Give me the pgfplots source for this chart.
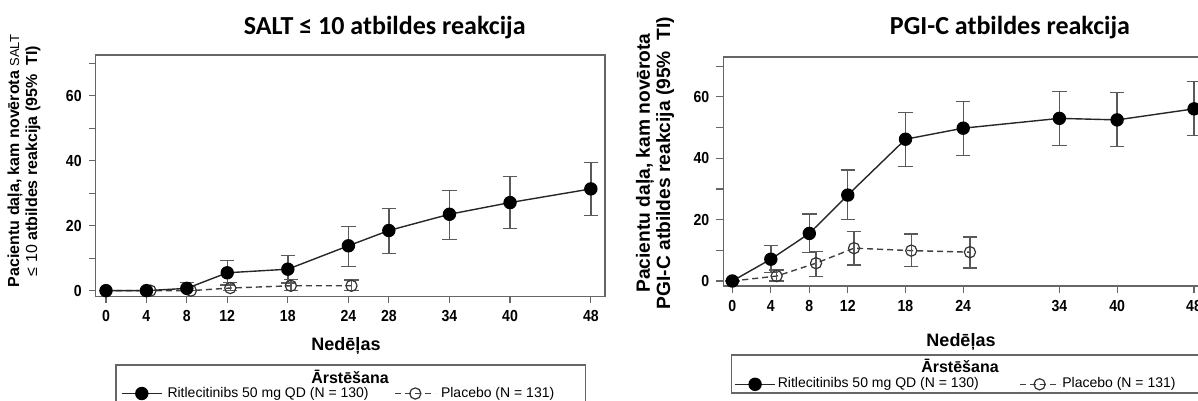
\documentclass[border=0pt]{standalone}
\usepackage{fontspec}
\setmainfont{Liberation Sans}
\newfontfamily\titlefont{Carlito}
\newfontfamily\ticklbl[FakeStretch=0.88]{Liberation Sans}
\usepackage{pgfplots}
\pgfplotsset{compat=1.18}

% data: week, value, +err, -err
\pgfplotstableread{
x y ep em
0 0 0 0
4 0 0 0
8 0.7 1.8 0.7
12 5.5 3.7 3.75
18 6.6 4.3 4.3
24 13.8 5.9 6.4
28 18.5 6.8 7.0
34 23.5 7.3 7.7
40 27.1 8.0 8.0
48 31.3 8.2 8.2
}\saltrit
\pgfplotstableread{
x y ep em
0 0 0 0
4.4 0 0 0
8.4 0 0 0
12.3 0.8 1.7 0.8
18.3 1.5 2.0 1.5
24.3 1.5 1.8 1.5
}\saltpla
\pgfplotstableread{
x y ep em
0 0 0 0
4 7.1 4.4 4.3
8 15.5 6.3 6.2
12 28.0 8.2 7.9
18 46.2 8.8 8.9
24 49.8 8.7 8.9
34 53.0 8.7 8.9
40 52.5 8.9 8.7
48 56.1 8.9 8.7
}\pgirit
\pgfplotstableread{
x y ep em
0 0 0 0
4.6 1.6 2.0 1.6
8.7 5.8 3.8 4.4
12.65 10.7 5.4 5.5
18.6 9.9 5.4 5.2
24.7 9.4 4.9 5.1
}\pgipla

\pgfplotsset{
  rit/.style={color=black!85, line width=0.7pt, mark=*, mark size=3pt,
    mark options={solid, fill=black, draw=black}},
  pla/.style={color=black!75, line width=0.7pt, dash pattern=on 3pt off 2pt,
    mark=o, mark size=2.8pt, mark options={solid, draw=black!80, line width=0.6pt}},
  ebar/.style={error bars/.cd, y dir=both, y explicit,
    error bar style={line width=0.7pt, color=black!65, solid},
    error mark options={rotate=90, mark size=3.6pt, line width=0.7pt, color=black!65, solid}},
  panel/.style={
    scale only axis, anchor=south west, clip=false,
    axis line style={black!60, line width=0.6pt},
    tick style={black!60, line width=0.6pt},
    tick align=outside, tick pos=left,
    major tick length=3.5pt, minor tick length=3.5pt,
    ytick={0,20,40,60}, minor ytick={10,30,50,70},
    /pgf/number format/assume math mode=true,
    tick label style={font=\ticklbl\bfseries\fontsize{8}{9}\selectfont},
    legend image code/.code={\draw[mark repeat=2,mark phase=2,##1]
      plot coordinates {(0pt,0pt) (10pt,0pt) (20pt,0pt)};},
  },
}

\begin{document}
\begin{tikzpicture}
\useasboundingbox (0,0) rectangle (599pt,200.5pt);
\clip (0,0) rectangle (599pt,200.5pt);

% ---- left panel: SALT <= 10
\begin{axis}[panel,
  at={(47.85pt,52.25pt)}, width=254.65pt, height=120.75pt,
  xmin=-1.02, xmax=49.4, ymin=-1.8, ymax=72.5,
  xtick={0,4,8,12,18,24,28,34,40,48},
  legend style={at={(0.0491,-0.4017)}, anchor=west, draw=none, fill=none,
    inner sep=0pt, font=\fontsize{7}{8}\selectfont, legend columns=2,
    column sep=2.5pt, nodes={inner sep=0pt},
    /tikz/every even column/.append style={column sep=13pt}},
]
\addlegendimage{rit}
\addlegendentry{Ritlecitinibs 50 mg QD (N = 130)}
\addlegendimage{pla}
\addlegendentry{Placebo (N = 131)}
\addplot[forget plot, pla, ebar] table[x=x, y=y, y error plus=ep, y error minus=em] {\saltpla};
\addplot[forget plot, rit, ebar] table[x=x, y=y, y error plus=ep, y error minus=em] {\saltrit};
\end{axis}

% ---- right panel: PGI-C
\begin{axis}[panel,
  at={(361.65pt,57.5pt)}, width=242.1pt, height=114.5pt,
  xmin=-0.94, xmax=49.4, ymin=-1.63, ymax=73.0,
  xtick={0,4,8,12,18,24,34,40,48},
  legend style={at={(0.0221,-0.4293)}, anchor=west, draw=none, fill=none,
    inner sep=0pt, font=\fontsize{7}{8}\selectfont, legend columns=2,
    column sep=1pt, nodes={inner sep=0pt},
    /tikz/every even column/.append style={column sep=20pt}},
]
\addlegendimage{rit}
\addlegendentry{Ritlecitinibs 50 mg QD (N = 130)}
\addlegendimage{pla}
\addlegendentry{Placebo (N = 131)}
\addplot[forget plot, pla, ebar] table[x=x, y=y, y error plus=ep, y error minus=em] {\pgipla};
\addplot[forget plot, rit, ebar] table[x=x, y=y, y error plus=ep, y error minus=em] {\pgirit};
\end{axis}

% titles
\node[anchor=base, font=\titlefont\bfseries\fontsize{13}{15}\selectfont] at (192.35pt,183pt) {SALT ≤ 10 atbildes reakcija};
\node[anchor=base, font=\titlefont\bfseries\fontsize{13}{15}\selectfont] at (505pt,183pt) {PGI-C atbildes reakcija};

% x labels
\node[anchor=base, font=\bfseries\fontsize{9}{11}\selectfont] at (173pt,25.15pt) {Nedēļas};
\node[anchor=base, font=\bfseries\fontsize{9}{11}\selectfont] at (480.5pt,27.15pt) {Nedēļas};

% y labels
\node[rotate=90, align=center, font=\fontsize{8}{9}\selectfont] at (12pt,120pt)
  {{\bfseries Pacientu daļa, kam novērota} {\fontsize{6.5}{8}\selectfont SALT}\\
   ≤ 10 {\bfseries atbildes reakcija (95\%~ TI)}};
\node[rotate=90, align=center, font=\bfseries\fontsize{9.6}{9}\selectfont] at (327.5pt,119pt)
  {Pacientu daļa, kam novērota\\PGI-C atbildes reakcija (95\%~ TI)};

% legend frames and titles
\draw[black!60, line width=0.6pt] (58pt,18pt) rectangle (292.75pt,-4.5pt);
\draw[black!60, line width=0.6pt] (365.8pt,23pt) rectangle (600pt,4pt);
\node[anchor=base, font=\bfseries\fontsize{8}{10}\selectfont] at (175pt,8.5pt) {Ārstēšana};
\node[anchor=base, font=\bfseries\fontsize{8}{10}\selectfont] at (480pt,14.15pt) {Ārstēšana};
\end{tikzpicture}
\end{document}
